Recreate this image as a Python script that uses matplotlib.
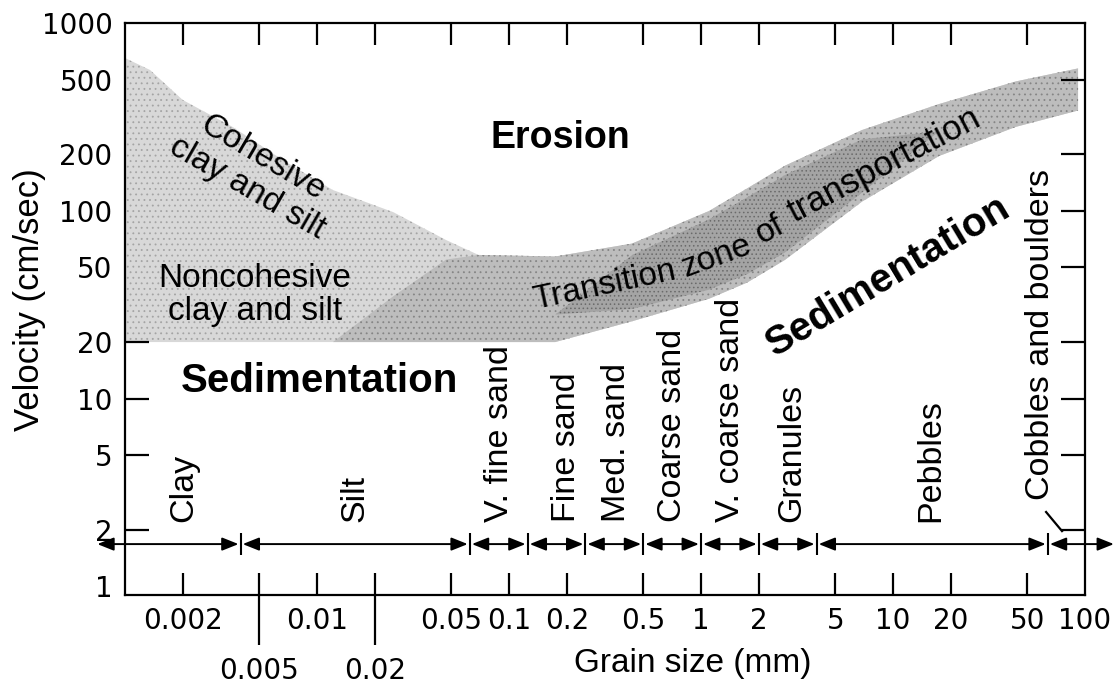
import matplotlib
matplotlib.use("Agg")
from matplotlib import pyplot as plt

plt.rcParams["font.family"] = ["Liberation Sans", "DejaVu Sans"]
plt.rcParams["hatch.linewidth"] = 0.6

# erosion / transport band, grain size in mm, velocity in cm/sec
band_grain = [0.001, 0.00135, 0.002, 0.00365, 0.00665, 0.0121, 0.0249, 0.047, 0.0694,
              0.174, 0.437, 1.1, 1.74, 2.74, 6.9, 17.4, 43.7, 92]
band_top = [651, 562, 389, 279, 186, 129, 98.5, 69.9, 58.2,
            57.1, 66.9, 99.7, 131.6, 173.9, 269.3, 370.4, 488.7, 573]
band_bottom = [20, 20, 20, 20, 20, 20, 20, 20, 20,
               20, 25.8, 34.0, 41.5, 54.8, 112, 196, 280, 342]

# darker transition zone inside the band
zone_grain = [0.0121, 0.0249, 0.047, 0.0694, 0.174, 0.437, 1.1, 1.74, 2.74, 6.9, 17.4, 43.7, 92]
zone_top = [20, 35, 55, 58.2, 57.1, 66.9, 99.7, 131.6, 173.9, 269.3, 370.4, 488.7, 573]
zone_bottom = [20, 20, 20, 20, 20, 25.8, 34.0, 41.5, 54.8, 112, 196, 280, 342]

# darkest part of the transition zone
core_grain = [0.174, 0.437, 1.1, 1.74, 2.74, 6.9, 17.4]
core_top = [28, 58, 90, 118, 155, 240, 265]
core_bottom = [28, 30, 38, 46, 60, 125, 265]

size_ticks = [0.002, 0.005, 0.01, 0.02, 0.05, 0.1, 0.2, 0.5, 1, 2, 5, 10, 20, 50, 100]
size_labels = ["0.002", "", "0.01", "", "0.05", "0.1", "0.2", "0.5", "1", "2", "5", "10", "20", "50", "100"]
long_ticks = [0.005, 0.02]
long_labels = ["0.005", "0.02"]
velocity_ticks = [1, 2, 5, 10, 20, 50, 100, 200, 500, 1000]
velocity_labels = ["1", "2", "5", "10", "20", "50", "100", "200", "500", "1000"]

class_names = ["Clay", "Silt", "V. fine sand", "Fine sand", "Med. sand", "Coarse sand",
               "V. coarse sand", "Granules", "Pebbles", "Cobbles and boulders"]
class_centers = [0.00203, 0.0158, 0.0897, 0.2, 0.365, 0.711, 1.43, 2.98, 15.8, 58.3]
class_limits = [0.004, 0.0625, 0.125, 0.25, 0.5, 1, 2, 4, 64]
scale_ends = [0.0007, 145]

fig = plt.figure(figsize=(11.19, 6.85), dpi=100)
ax = fig.add_axes([0.11171, 0.13139, 0.85791, 0.83504])
ax.set_xscale("log")
ax.set_yscale("log")
ax.set_xlim(0.001, 100)
ax.set_ylim(0.9, 1000)

ax.fill_between(band_grain, band_bottom, band_top, facecolor="#d8d8d8", edgecolor="#a4a4a4",
                hatch="...", linewidth=0, zorder=1)
ax.fill_between(zone_grain, zone_bottom, zone_top, facecolor="#bdbdbd", edgecolor="#858585",
                hatch="...", linewidth=0, zorder=1.1)
ax.fill_between(core_grain, core_bottom, core_top, facecolor="#a4a4a4", edgecolor="#6a6a6a",
                hatch="....", linewidth=0, zorder=1.2)

# axes ticks
ax.xaxis.remove_overlapping_locs = False
ax.set_xticks(size_ticks, size_labels, fontfamily="DejaVu Sans")
ax.set_xticks(long_ticks, long_labels, minor=True, fontfamily="DejaVu Sans")
ax.set_yticks(velocity_ticks, velocity_labels, fontfamily="DejaVu Sans")
ax.set_yticks([], minor=True)
ax.tick_params(axis="x", which="major", direction="in", length=16, width=1.6,
               top=True, bottom=True, labelsize=20, pad=9)
ax.tick_params(axis="x", which="minor", direction="out", length=36, width=1.6,
               top=False, bottom=True, labelsize=20, pad=9)
ax.tick_params(axis="y", which="major", direction="in", length=17, width=1.6,
               left=True, right=True, labelsize=20, pad=9)
for tick, val in zip(ax.xaxis.get_major_ticks(), size_ticks):
    if val == 100:
        tick.tick1line.set_visible(False)
        tick.tick2line.set_visible(False)
for tick, val in zip(ax.yaxis.get_major_ticks(), velocity_ticks):
    if val in (1, 1000):
        tick.tick1line.set_visible(False)
        tick.tick2line.set_visible(False)
    elif val >= 50:
        tick.tick1line.set_visible(False)
for sp in ax.spines.values():
    sp.set_linewidth(1.6)

ax.set_xlabel("Grain size (mm)", fontsize=24, va="center")
ax.xaxis.set_label_coords(0.5917, -0.1198)
ax.set_ylabel("Velocity (cm/sec)", fontsize=25, va="center")
ax.yaxis.set_label_coords(-0.1, 0.516)

# grain size classes along the bottom
arrow_y = 1.68
edges = [scale_ends[0]] + class_limits + [scale_ends[1]]
for a, b in zip(edges[:-1], edges[1:]):
    ann = ax.annotate("", xy=(b, arrow_y), xytext=(a, arrow_y), annotation_clip=False,
                      arrowprops=dict(arrowstyle="<|-|>,head_length=0.55,head_width=0.22",
                                      color="black", lw=1.4, shrinkA=1.5, shrinkB=1.5,
                                      mutation_scale=18))
    ann.arrow_patch.set_clip_on(False)
ax.vlines(class_limits, 1.47, 1.92, color="black", lw=1.5, zorder=3)
for name, c in zip(class_names[:-1], class_centers[:-1]):
    ax.text(c, 2.2, name, rotation=90, ha="center", va="bottom", fontsize=24.5)
ax.text(class_centers[-1], 2.88, class_names[-1], rotation=90, ha="center", va="bottom", fontsize=24.5)
ax.plot([62.7, 75.9], [2.49, 1.97], color="black", lw=1.6, clip_on=False)

# region labels
ax.text(0.1845, 216, "Erosion", fontsize=27, fontweight="bold", ha="center", va="baseline", zorder=4)
ax.text(0.01036, 10.8, "Sedimentation", fontsize=29, fontweight="bold", ha="center", va="baseline")
ax.text(10.1, 39.8, "Sedimentation", fontsize=29, fontweight="bold", rotation=31,
        rotation_mode="anchor", ha="center", va="baseline")

ax.text(0.00523, 192, "Cohesive", fontsize=24, rotation=-30.5, rotation_mode="anchor",
        ha="center", va="center", zorder=4)
ax.text(0.00434, 132, "clay and silt", fontsize=24, rotation=-30, rotation_mode="anchor",
        ha="center", va="center", zorder=4)
ax.text(0.00475, 39.3, "Noncohesive", fontsize=24, ha="center", va="baseline", zorder=4)
ax.text(0.00475, 26.2, "clay and silt", fontsize=24, ha="center", va="baseline", zorder=4)

for word, gx, gv, rot, fs in [("Transition", 0.32, 36.1, 12, 24), ("zone", 1.256, 51.4, 20, 24),
                              ("of", 2.40, 72.5, 28, 24), ("transportation", 9.53, 157.4, 27.5, 25)]:
    ax.text(gx, gv, word, fontsize=fs, rotation=rot, rotation_mode="anchor",
            ha="center", va="baseline", zorder=4)

fig.savefig("out.png", dpi=100)
